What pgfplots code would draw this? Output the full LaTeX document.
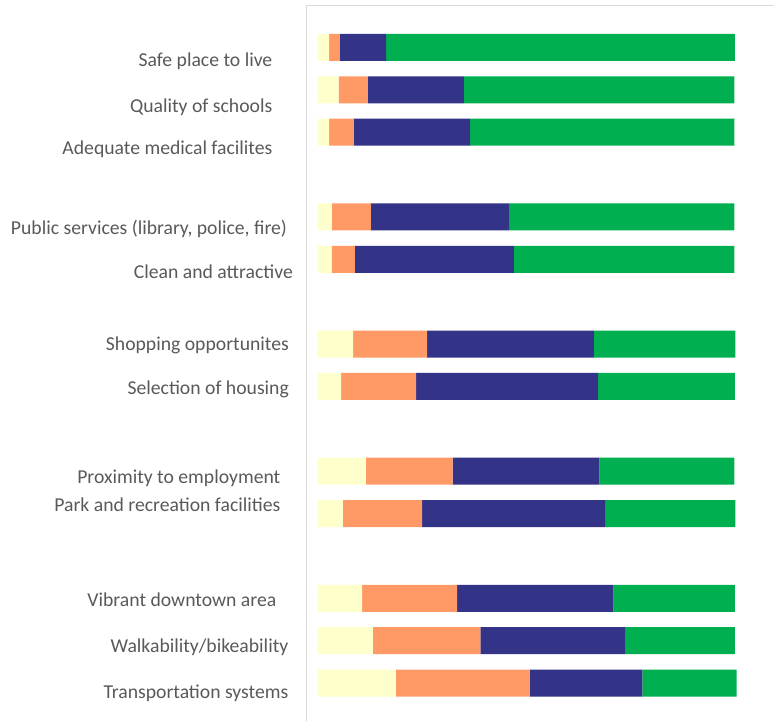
\documentclass[border=0pt]{standalone}
\usepackage{pgfplots}
\pgfplotsset{compat=1.18}
\usepackage{pgfplotstable}
\usepackage{fontspec}
\setmainfont{Carlito}
\definecolor{cY}{HTML}{FFFFCC}
\definecolor{cO}{HTML}{FF9966}
\definecolor{cB}{HTML}{333388}
\definecolor{cG}{HTML}{00B050}
\definecolor{txt}{HTML}{595959}
\pgfplotstableread{
y     Y     O     B     G
0     2.7   2.6   11.1  83.6
-1    5.0   7.0   23.0  64.9
-2    2.7   5.9   27.9  63.4
-4    3.4   9.3   33.2  54.0
-5    3.3   5.6   38.1  52.9
-7    8.5   17.7  40.0  33.9
-8    5.6   18.0  43.6  32.8
-10   11.5  20.8  35.2  32.4
-11   6.0   19.0  43.9  31.2
-13   10.6  22.8  37.5  29.1
-14   13.2  25.8  34.8  26.2
-15   18.7  32.1  27.0  22.6
}\data
\newcommand{\lab}[3]{\node[anchor=base east, font=\fontsize{19.7bp}{22bp}\selectfont, text=txt, inner sep=0pt]
  at ([xshift=#1bp-307bp, yshift=-#2bp+5.5bp]current axis.north west) {#3};}
\begin{document}
\begin{tikzpicture}
\begin{axis}[
  scale only axis, width=467bp, height=715.5bp,
  xmin=-2.636, xmax=109.27, ymin=-15.884, ymax=0.99,
  xbar stacked, bar width=0.637,
  axis x line*=top, axis y line*=left,
  axis line style={draw=black!15, line width=1bp},
  xtick=\empty, ytick=\empty,
  clip=false,
]
\addplot[fill=cY, draw=none] table[x=Y, y=y] {\data};
\addplot[fill=cO, draw=none] table[x=O, y=y] {\data};
\addplot[fill=cB, draw=none] table[x=B, y=y] {\data};
\addplot[fill=cG, draw=none] table[x=G, y=y] {\data};
\end{axis}
\draw[black!15, line width=1bp] (current axis.north west) -- (current axis.north east);
\path ([xshift=-307bp]current axis.south west) rectangle (current axis.north east) ++(0,5.5bp);
\lab{272.7}{66.7}{Safe place to live}
\lab{272.7}{112.7}{Quality of schools}
\lab{272.7}{155}{Adequate medical facilites}
\lab{287.3}{234.3}{Public services (library, police, fire)}
\lab{293.3}{279}{Clean and attractive}
\lab{289.3}{350.7}{Shopping opportunites}
\lab{289.3}{395}{Selection of housing}
\lab{280.7}{484}{Proximity to employment}
\lab{280.7}{511.7}{Park and recreation facilities}
\lab{276.7}{607.3}{Vibrant downtown area}
\lab{288.7}{653.3}{Walkability/bikeability}
\lab{288.7}{699.3}{Transportation systems}
\end{tikzpicture}
\end{document}
